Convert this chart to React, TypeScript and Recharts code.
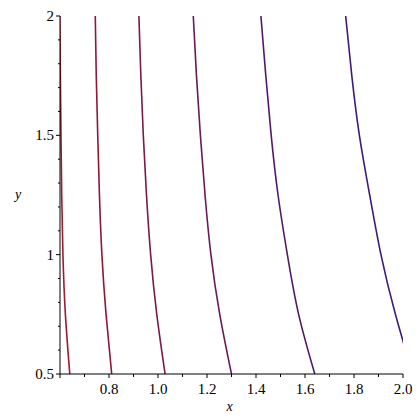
import React from 'react';
import { LineChart, Line, XAxis, YAxis } from 'recharts';

const yLevels = [0.5, 0.75, 1, 1.25, 1.5, 1.75, 2];
const contour1 = [0.64, 0.622, 0.612, 0.607, 0.604, 0.6015, 0.599];
const contour2 = [0.811, 0.788, 0.771, 0.761, 0.754, 0.748, 0.744];
const contour3 = [1.029, 0.995, 0.97, 0.953, 0.94, 0.93, 0.922];
const contour4 = [1.3, 1.252, 1.216, 1.192, 1.173, 1.157, 1.144];
const contour5 = [1.64, 1.574, 1.528, 1.49, 1.462, 1.44, 1.42];
const contour6 = [2.04, 1.969, 1.91, 1.864, 1.822, 1.791, 1.766];
const contourColors = ['#9b1b32', '#8c1838', '#7a1a49', '#691a57', '#511a69', '#3e1b78'];

const xTicks = [0.6, 0.7, 0.8, 0.9, 1.0, 1.1, 1.2, 1.3, 1.4, 1.5, 1.6, 1.7, 1.8, 1.9, 2.0];
const xLabels = [0.8, 1.0, 1.2, 1.4, 1.6, 1.8, 2.0];
const yTicks = [0.5, 0.6, 0.7, 0.8, 0.9, 1.0, 1.1, 1.2, 1.3, 1.4, 1.5, 1.6, 1.7, 1.8, 1.9, 2.0];
const yLabels = [0.5, 1, 1.5, 2];

const contours = [contour1, contour2, contour3, contour4, contour5, contour6];
const series = contours.map((xs) => xs.map((x, i) => ({ x, y: yLevels[i] })));

const FONT = '"Liberation Serif", "DejaVu Serif", serif';
const textStyle = { fontFamily: FONT };

const near = (a: number, list: number[]) => list.some((v) => Math.abs(v - a) < 1e-6);

const XTick = (props: any) => {
  const { x, y, payload } = props;
  const v = payload.value;
  const major = near(v, xLabels) || Math.abs(v - 0.6) < 1e-6;
  return (
    <g>
      <line x1={x} x2={x} y1={y} y2={y + (major ? 4 : 3)} stroke="#000" strokeWidth={1} />
      {near(v, xLabels) && (
        <text x={x} y={y + 20} textAnchor="middle" style={textStyle} fontSize={15} fill="#000">
          {v.toFixed(1)}
        </text>
      )}
    </g>
  );
};

const YTick = (props: any) => {
  const { x, y, payload } = props;
  const v = payload.value;
  const major = near(v, yLabels);
  return (
    <g>
      <line x1={x - (major ? 4 : 2)} x2={x} y1={y} y2={y} stroke="#000" strokeWidth={1} />
      {major && (
        <text x={x - 6} y={y + 5} textAnchor="end" style={textStyle} fontSize={15} fill="#000">
          {String(v)}
        </text>
      )}
    </g>
  );
};

export default function App() {
  return (
    <div style={{ position: 'absolute', left: 0, top: 0, width: 420, height: 420, background: '#fff' }}>
      <LineChart width={420} height={420} margin={{ top: 16, right: 17, bottom: 0, left: 0 }}>
        <XAxis
          type="number"
          dataKey="x"
          domain={[0.6, 2]}
          ticks={xTicks}
          allowDataOverflow
          interval={0}
          height={46}
          tickLine={false}
          tickSize={0}
          tickMargin={0}
          axisLine={{ stroke: '#000', strokeWidth: 1 }}
          tick={<XTick />}
          label={(p: any) => {
            const vb = p.viewBox;
            return (
              <text x={vb.x + vb.width / 2 - 2} y={411} textAnchor="middle" style={textStyle} fontStyle="italic" fontSize={14} fill="#000">
                x
              </text>
            );
          }}
        />
        <YAxis
          type="number"
          dataKey="y"
          domain={[0.5, 2]}
          ticks={yTicks}
          allowDataOverflow
          interval={0}
          width={60}
          tickLine={false}
          tickSize={0}
          tickMargin={0}
          axisLine={{ stroke: '#000', strokeWidth: 1 }}
          tick={<YTick />}
          label={() => (
            <text x={18} y={199} textAnchor="middle" style={textStyle} fontStyle="italic" fontSize={14} fill="#000">
              y
            </text>
          )}
        />
        {series.map((d, i) => (
          <Line
            key={i}
            data={d}
            dataKey="y"
            type="natural"
            stroke={contourColors[i]}
            strokeWidth={1.6}
            dot={false}
            activeDot={false}
            isAnimationActive={false}
          />
        ))}
      </LineChart>
    </div>
  );
}
